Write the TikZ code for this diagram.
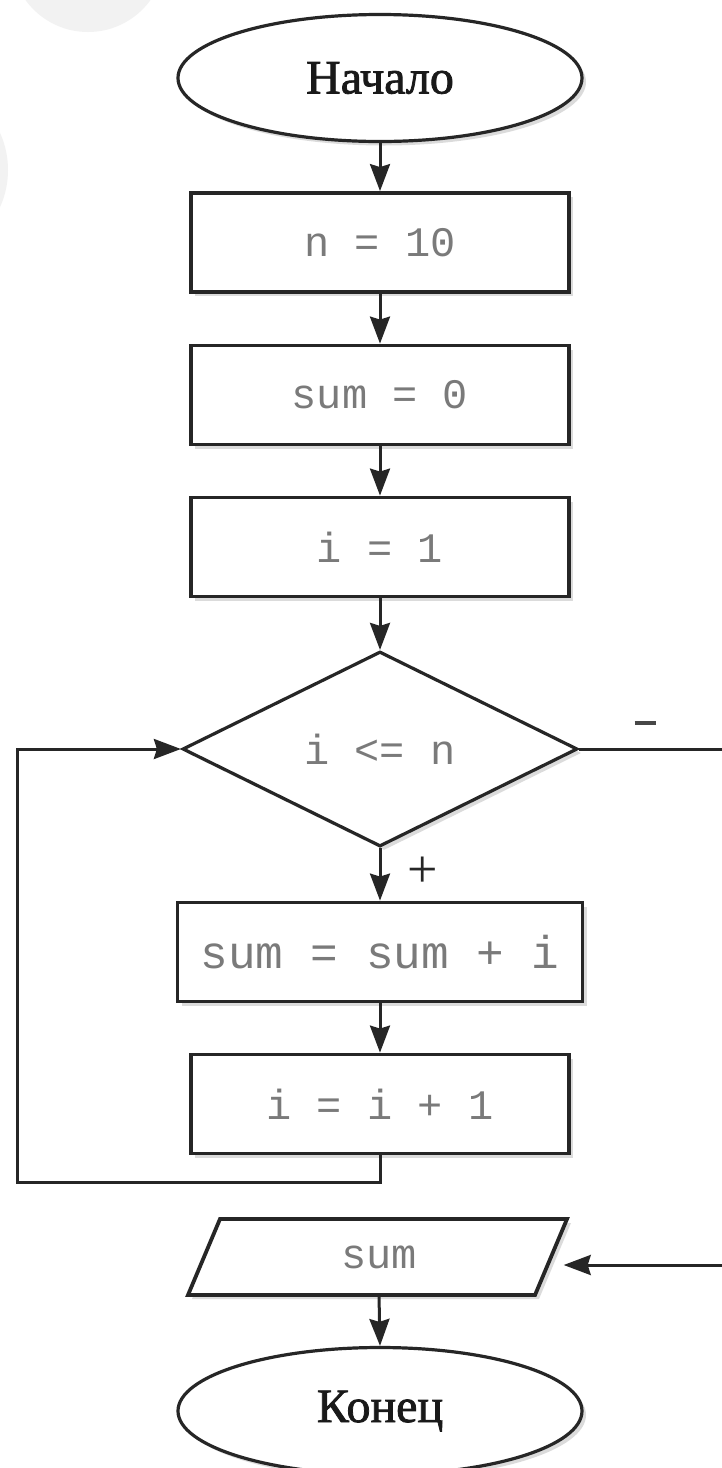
\documentclass[tikz,border=0pt]{standalone}
\usepackage{fontspec}
\setmainfont{Liberation Serif}
\newfontfamily\termf[FakeBold=1.6]{Liberation Serif}
\newfontfamily\monof{Liberation Mono}
\usetikzlibrary{shapes.geometric,arrows.meta,calc,shadows}
\definecolor{ln}{HTML}{262626}
\definecolor{tx}{HTML}{7A7A7A}
\definecolor{blob}{HTML}{F2F2F2}
\tikzset{
  shdw/.style={drop shadow={shadow xshift=4pt, shadow yshift=-4pt, opacity=0.14, fill=black}},
  conn/.style={line width=3pt, draw=ln, -{Stealth[length=27pt,width=20pt,inset=3pt]}},
  procbox/.style={rectangle, draw=ln, line width=3.8pt, fill=white, minimum width=378pt,
    minimum height=99pt, inner sep=0pt, font=\monof\fontsize{42}{48}\selectfont, text=tx, shdw},
  term/.style={ellipse, draw=ln, line width=3.2pt, fill=white, minimum width=404pt,
    minimum height=127pt, inner sep=0pt, font=\termf\fontsize{48}{54}\selectfont, text=black!90, shdw},
  decis/.style={diamond, draw=ln, line width=3.2pt, fill=white, minimum width=395pt,
    minimum height=195pt, inner sep=0pt, font=\monof\fontsize{42}{48}\selectfont, text=tx, shdw},
  iobox/.style={draw=ln, line width=3.8pt, fill=white, shdw},
  iotext/.style={rectangle, minimum width=347pt, minimum height=76pt, inner sep=0pt,
    font=\monof\fontsize{42}{48}\selectfont, text=tx},
  lbl/.style={font=\fontsize{54}{60}\selectfont, text=ln, inner sep=0pt}
}
\begin{document}
\begin{tikzpicture}[x=1pt,y=-1pt]
\useasboundingbox (0,0) rectangle (722,1468);
\fill[white] (0,0) rectangle (722,1468);
% faint background blobs
\fill[blob] (88,-45) circle (77);
\fill[blob] (-82,170) circle (90);

\node[term] (start) at (380,78) {Начало};
\node[procbox] (n10) at (380,242.5) {n = 10};
\node[procbox] (sum0) at (380,395) {sum = 0};
\node[procbox] (i1) at (380,547) {i = 1};
\node[decis] (cond) at (380,749) {i <= n};
\node[procbox, minimum width=405pt, font=\monof\fontsize{46}{52}\selectfont] (body1) at (380,952) {sum = sum + i};
\node[procbox] (body2) at (380,1104) {i = i + 1};
\draw[iobox] (220,1219) -- (567,1219) -- (535,1295) -- (188,1295) -- cycle;
\node[iotext] (out) at (379,1257) {sum};
\node[term] (stop) at (380,1411) {Конец};

\coordinate (loopL) at (17,1182);
\coordinate (farR) at (780,1265);
\coordinate (outR) at ($(out.east)+(11,8)$);

\draw[conn] (start.south) -- (n10.north);
\draw[conn] (n10.south) -- (sum0.north);
\draw[conn] (sum0.south) -- (i1.north);
\draw[conn] (i1.south) -- (cond.north);
\draw[conn] (cond.south) -- (body1.north);
\draw[conn] (body1.south) -- (body2.north);
\draw[conn] (body2.south) |- (loopL) |- (cond.west);
\draw[conn] (cond.east) -| (farR) -- (outR);
\draw[conn] (out.south) -- (stop.north);

\node[lbl] (plus) at (423,872) {+};
\node[lbl, text=ln!85] (minus) at (645,723) {\rule{21pt}{4.5pt}};
\end{tikzpicture}
\end{document}
